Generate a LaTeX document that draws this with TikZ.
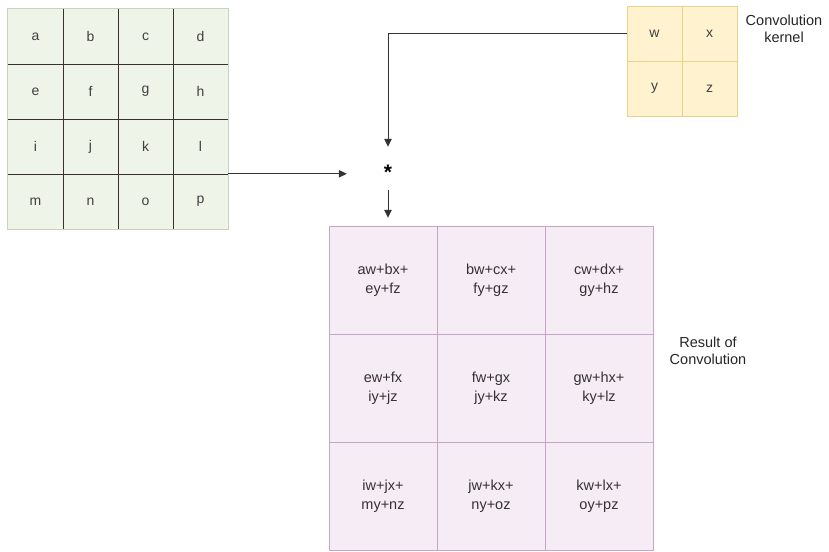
\documentclass[tikz,border=0pt]{standalone}
\usepackage{fontspec}
\setmainfont{Liberation Sans}
\usetikzlibrary{arrows.meta}
\definecolor{inputfill}{HTML}{EFF4E9}
\definecolor{inputedge}{HTML}{C9D3BC}
\definecolor{inputline}{HTML}{3B3030}
\definecolor{kernelfill}{HTML}{FFF3CF}
\definecolor{kerneledge}{HTML}{E9D38A}
\definecolor{resultfill}{HTML}{F6ECF5}
\definecolor{resultedge}{HTML}{C7A5C9}
\tikzset{
    line/.style={
        line width=1pt,
        black!80
    },
    arrow/.style={
        line,
        -{Triangle[length=2.8mm, width=2.6mm]}
    },
    incell/.style={
        fill=inputfill,
        minimum size=55pt,
        inner sep=0pt,
        text=black!75,
        font=\fontsize{14}{16}\selectfont
    },
    kcell/.style={
        draw=kerneledge,
        fill=kernelfill,
        minimum size=55pt,
        inner sep=0pt,
        text=black!75,
        font=\fontsize{14}{16}\selectfont
    },
    rcell/.style={
        draw=resultedge,
        fill=resultfill,
        minimum size=108pt,
        inner sep=0pt,
        align=center,
        text=black!80,
        font=\fontsize{14.5}{19}\selectfont
    },
    caption/.style={
        align=center,
        text=black!85,
        font=\fontsize{14.5}{16.5}\selectfont
    }
}

\begin{document}
\begin{tikzpicture}[x=1pt, y=-1pt]
    \useasboundingbox (0, 0) rectangle (829, 551);

    % 4x4 input
    \foreach \lbl [count=\n from 0] in {a,b,c,d,e,f,g,h,i,j,k,l,m,n,o,p} {
        \pgfmathtruncatemacro{\r}{int(\n / 4) + 1}
        \pgfmathtruncatemacro{\c}{mod(\n, 4) + 1}
        \node [incell] (in\r\c) at ({35.5 + 55 * (\c - 1)}, {36.5 + 55 * (\r - 1)}) {\lbl};
    }
    \draw [inputedge, line width=1.2pt] (in11.north west) rectangle (in44.south east);
    \foreach \i in {1, 2, 3} {
        \draw [inputline, line width=1.2pt] (in1\i.north east) -- (in4\i.south east);
        \draw [inputline, line width=1.2pt] (in\i1.south west) -- (in\i4.south east);
    }

    % 2x2 kernel
    \foreach \lbl [count=\n from 0] in {w,x,y,z} {
        \pgfmathtruncatemacro{\r}{int(\n / 2) + 1}
        \pgfmathtruncatemacro{\c}{mod(\n, 2) + 1}
        \node [kcell] (k\r\c) at ({654.5 + 55 * (\c - 1)}, {33.5 + 55 * (\r - 1)}) {\lbl};
    }
    \node [caption] (kcap) at (784, 29) {Convolution\\kernel};

    % 3x3 result
    \foreach \fst/\snd [count=\n from 0] in {
        aw+bx+/ey+fz, bw+cx+/fy+gz, cw+dx+/gy+hz,
        ew+fx/iy+jz, fw+gx/jy+kz, gw+hx+/ky+lz,
        iw+jx+/my+nz, jw+kx+/ny+oz, kw+lx+/oy+pz
    } {
        \pgfmathtruncatemacro{\r}{int(\n / 3) + 1}
        \pgfmathtruncatemacro{\c}{mod(\n, 3) + 1}
        \node [rcell] (r\r\c) at ({383 + 108 * (\c - 1)}, {280 + 108 * (\r - 1)}) {\fst\\\snd};
    }
    \node [caption] (rcap) at (708, 351) {Result of\\Convolution};

    \node [minimum width=82pt, minimum height=36pt, inner sep=0pt,
        font=\bfseries\fontsize{21}{21}\selectfont] (star) at (388, 172) {*};

    \draw [arrow] (in44.north east) -- (in44.north east -| star.west);
    \draw [arrow, shorten >=7pt] (k11.west) -| (star.north);
    \draw [arrow, shorten >=8pt] (star.south) -- (star.south |- r11.north);
\end{tikzpicture}
\end{document}
